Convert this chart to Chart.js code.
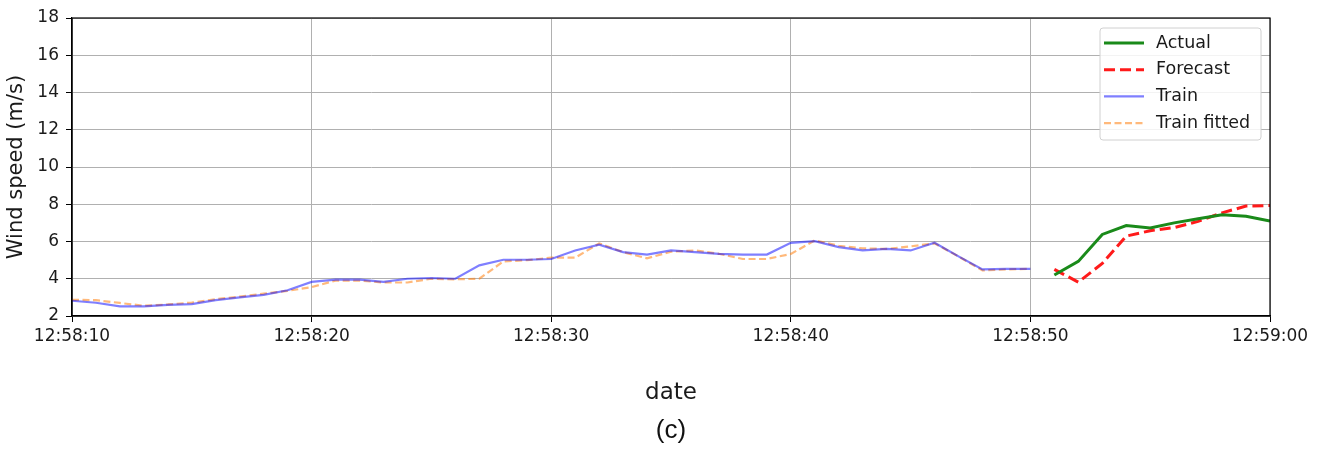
<!DOCTYPE html>
<html>
<head>
<meta charset="utf-8">
<script src="https://cdn.jsdelivr.net/npm/chart.js@4"></script>
<style>
html,body{margin:0;padding:0;background:#fff;}
#wrap{width:1326px;height:450px;}
</style>
</head>
<body>
<div id="wrap"><canvas id="c" width="1326" height="450"></canvas></div>
<script>
// ---- data ----
const startTime = '12:58:10';
const trainTimes = ['12:58:10','12:58:11','12:58:12','12:58:13','12:58:14','12:58:15','12:58:16','12:58:17','12:58:18','12:58:19',
  '12:58:20','12:58:21','12:58:22','12:58:23','12:58:24','12:58:25','12:58:26','12:58:27','12:58:28','12:58:29',
  '12:58:30','12:58:31','12:58:32','12:58:33','12:58:34','12:58:35','12:58:36','12:58:37','12:58:38','12:58:39',
  '12:58:40','12:58:41','12:58:42','12:58:43','12:58:44','12:58:45','12:58:46','12:58:47','12:58:48','12:58:49','12:58:50'];
const testTimes = ['12:58:51','12:58:52','12:58:53','12:58:54','12:58:55','12:58:56','12:58:57','12:58:58','12:58:59','12:59:00'];
const trainValues = [2.82,2.71,2.52,2.52,2.60,2.64,2.85,3.00,3.13,3.38,
  3.83,3.95,3.95,3.83,4.00,4.04,4.00,4.72,5.02,5.02,
  5.06,5.52,5.83,5.43,5.30,5.52,5.43,5.34,5.30,5.30,
  5.93,6.02,5.70,5.52,5.60,5.52,5.93,5.20,4.50,4.53,4.53];
const trainFitted = [2.87,2.85,2.70,2.55,2.62,2.72,2.90,3.04,3.20,3.35,
  3.55,3.90,3.90,3.80,3.80,4.00,3.97,4.00,4.93,5.00,
  5.13,5.13,5.90,5.43,5.10,5.45,5.52,5.34,5.06,5.06,
  5.33,6.06,5.77,5.63,5.60,5.74,5.90,5.20,4.45,4.50,4.53];
const actualValues = [4.20,4.93,6.38,6.86,6.72,7.00,7.22,7.43,7.36,7.10];
const forecastValues = [4.50,3.82,4.82,6.29,6.58,6.75,7.08,7.54,7.90,7.93];
const xTickLabels = ['12:58:10','12:58:20','12:58:30','12:58:40','12:58:50','12:59:00'];
const yTicks = [2,4,6,8,10,12,14,16,18];

// ---- helpers ----
function toSec(t){const p=t.split(':').map(Number);return p[0]*3600+p[1]*60+p[2];}
const t0 = toSec(startTime);
function pts(times, vals){return times.map((t,i)=>({x:toSec(t)-t0,y:vals[i]}));}
const tickSecs = xTickLabels.map(t=>toSec(t)-t0);

const FONT = "'DejaVu Sans', sans-serif";
const TXT = '#1a1a1a';

const framePlugin = {
  id:'frame',
  afterDatasetsDraw(chart){
    const {ctx, chartArea:a} = chart;
    ctx.save();
    ctx.strokeStyle = '#000';
    ctx.lineWidth = 1.2;
    ctx.strokeRect(a.left, a.top, a.right-a.left, a.bottom-a.top);
    ctx.restore();
  }
};

const legendPlugin = {
  id:'mplLegend',
  afterDraw(chart){
    const {ctx, chartArea:a} = chart;
    const ds = chart.data.datasets;
    const w = 161, h = 112;
    const x = a.right - 9 - w, y = a.top + 10;
    ctx.save();
    ctx.beginPath();
    const r = 3;
    ctx.moveTo(x+r,y);ctx.lineTo(x+w-r,y);ctx.quadraticCurveTo(x+w,y,x+w,y+r);
    ctx.lineTo(x+w,y+h-r);ctx.quadraticCurveTo(x+w,y+h,x+w-r,y+h);
    ctx.lineTo(x+r,y+h);ctx.quadraticCurveTo(x,y+h,x,y+h-r);
    ctx.lineTo(x,y+r);ctx.quadraticCurveTo(x,y,x+r,y);ctx.closePath();
    ctx.fillStyle = 'rgba(255,255,255,0.85)';
    ctx.fill();
    ctx.strokeStyle = '#d0d0d0';
    ctx.lineWidth = 1;
    ctx.stroke();
    ds.forEach((d,i)=>{
      const ly = y + 15 + i*26.7;
      ctx.beginPath();
      ctx.setLineDash(d.borderDash || []);
      ctx.strokeStyle = d.borderColor;
      ctx.lineWidth = d.borderWidth;
      ctx.moveTo(x+4, ly);
      ctx.lineTo(x+44, ly);
      ctx.stroke();
      ctx.setLineDash([]);
      ctx.fillStyle = TXT;
      ctx.font = "17.5px " + FONT;
      ctx.textBaseline = 'middle';
      ctx.textAlign = 'left';
      ctx.fillText(d.label, x+56, ly);
    });
    ctx.restore();
  }
};

new Chart(document.getElementById('c'), {
  type:'line',
  data:{
    datasets:[
      {label:'Actual', data:pts(testTimes, actualValues), borderColor:'#1a8a1a', borderWidth:3, pointRadius:0, fill:false, tension:0},
      {label:'Forecast', data:pts(testTimes, forecastValues), borderColor:'#ff1a1a', borderWidth:3, borderDash:[11,5], pointRadius:0, fill:false, tension:0},
      {label:'Train', data:pts(trainTimes, trainValues), borderColor:'rgba(0,0,255,0.5)', borderWidth:2.2, pointRadius:0, fill:false, tension:0},
      {label:'Train fitted', data:pts(trainTimes, trainFitted), borderColor:'rgba(255,127,14,0.55)', borderWidth:2.2, borderDash:[7,3.5], pointRadius:0, fill:false, tension:0}
    ]
  },
  options:{
    responsive:false,
    animation:false,
    layout:{padding:{top:18, right:56, left:0, bottom:0}},
    plugins:{
      legend:{display:false},
      tooltip:{enabled:false},
      title:{display:true, text:'(c)', position:'bottom', fullSize:false,
        font:{family:"'Liberation Sans', Arial, sans-serif", size:26, weight:'normal'}, color:'#111',
        padding:{top:0,bottom:4}}
    },
    scales:{
      x:{
        type:'linear', min:0, max:50,
        afterBuildTicks(s){ s.ticks = tickSecs.map(v=>({value:v})); },
        afterFit(s){ s.height = 98.8; },
        ticks:{ callback:(v)=>{const i=tickSecs.indexOf(v);return i>=0?xTickLabels[i]:'';}, maxRotation:0, autoSkip:false,
          font:{family:FONT,size:17}, color:TXT, padding:4},
        grid:{color:'#b0b0b0', lineWidth:1, tickLength:6, tickColor:'#000', drawTicks:true},
        border:{display:true, color:'#000', width:1.2},
        title:{display:true, text:'date', font:{family:FONT,size:23}, color:TXT, padding:{top:0,bottom:8}}
      },
      y:{
        min:2, max:18,
        afterBuildTicks(s){ s.ticks = yTicks.map(v=>({value:v})); },
        afterFit(s){ s.width = 72; },
        ticks:{ font:{family:FONT,size:17}, color:TXT, padding:7 },
        grid:{color:'#b0b0b0', lineWidth:1, tickLength:6, tickColor:'#000', drawTicks:true},
        border:{display:true, color:'#000', width:1.2},
        title:{display:true, text:'Wind speed (m/s)', font:{family:FONT,size:21}, color:TXT, padding:{top:4,bottom:0}}
      }
    }
  },
  plugins:[framePlugin, legendPlugin]
});
</script>
</body>
</html>
